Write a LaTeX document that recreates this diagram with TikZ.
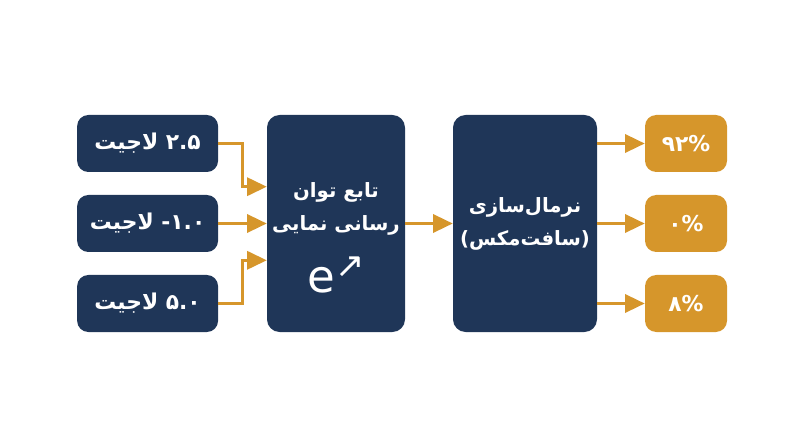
\documentclass[tikz,border=0pt]{standalone}
\usepackage{fontspec}
\usetikzlibrary{arrows.meta}
\usetikzlibrary{positioning}
\TeXXeTstate=1
\newfontfamily\arabicfont[Script=Arabic]{DejaVu Sans}
\newfontfamily\symfont{DejaVu Sans}
\definecolor{navy}{HTML}{1F3658}
\definecolor{amber}{HTML}{D6962B}
\tikzstyle{logit} = [rectangle, fill=navy, text=white, rounded corners=8pt,
    minimum width=3.525cm, minimum height=1.425cm,
    font=\arabicfont\bfseries\fontsize{15.5}{18}\selectfont]
\tikzstyle{block} = [rectangle, fill=navy, text=white, rounded corners=9pt,
    minimum height=5.425cm, align=center,
    font=\arabicfont\bfseries\fontsize{14}{23.5}\selectfont]
\tikzstyle{prob} = [rectangle, fill=amber, text=white, rounded corners=8pt,
    minimum width=2.05cm, minimum height=1.425cm,
    font=\symfont\bfseries\fontsize{15.5}{18}\selectfont]
\tikzstyle{line} = [draw=amber, line width=1.9pt,
    -{Triangle[length=14pt,width=13pt]}]

\begin{document}
\begin{tikzpicture}[node distance=2cm]
\useasboundingbox (0,0) rectangle (20,-11.175);
% Place nodes
\node [logit] (logitB) at (3.69,-5.5875) {\beginR\beginL\hbox{-}۱.۰\endL{} لاجیت\endR};
\node [logit, above of=logitB] (logitA) {\beginR\beginL۲.۵\endL{} لاجیت\endR};
\node [logit, below of=logitB] (logitC) {\beginR\beginL۵.۰\endL{} لاجیت\endR};

\node [block, minimum width=3.45cm, right of=logitB, node distance=4.71cm] (exp)
    {\rule{0pt}{31pt}\beginR تابع توان\endR\\ \beginR رسانی نمایی\endR\\[14pt]
     {\normalfont\symfont\fontsize{32}{34}\selectfont e\raisebox{0.62ex}{\fontsize{25}{25}\selectfont ↗}}};
\node [block, minimum width=3.6cm, right of=exp, node distance=4.725cm] (norm)
    {\beginR نرمال^^^^200cسازی\endR\\ \beginR(سافت^^^^200cمکس)\endR};

\node [prob, right of=norm, node distance=4.025cm] (outB) {۰\%};
\node [prob, above of=outB] (outA) {۹۲\%};
\node [prob, below of=outB] (outC) {۸\%};

% Draw edges
\path [line] (logitA.east) -- ++(0.6,0) |- ([yshift=0.92cm]exp.west);
\path [line] (logitB) -- (exp);
\path [line] (logitC.east) -- ++(0.6,0) |- ([yshift=-0.92cm]exp.west);

\path [line] (exp) -- (norm);

\path [line] (norm.east |- outA) -- (outA);
\path [line] (norm.east |- outB) -- (outB);
\path [line] (norm.east |- outC) -- (outC);
\end{tikzpicture}
\end{document}
